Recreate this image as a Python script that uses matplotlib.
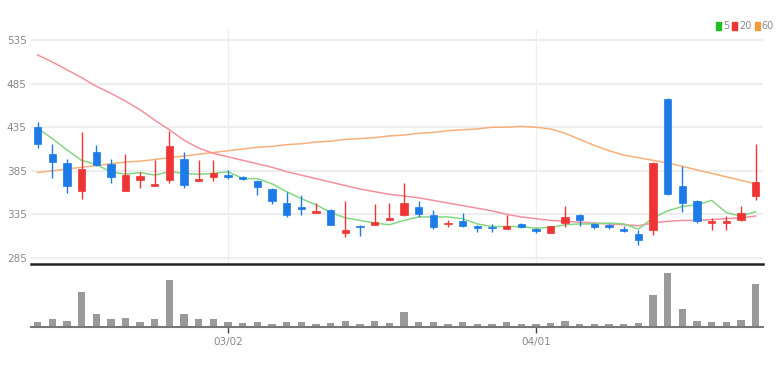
import matplotlib
matplotlib.use("Agg")
import matplotlib.pyplot as plt
import numpy as np

# Daily candles (price), index 0..49
opens = [435, 404, 394, 362, 406, 393, 362, 374, 368, 374,
         399, 373, 378, 380, 378, 373, 364, 348, 343, 337,
         340, 313, 322, 323, 328, 334, 343, 334, 324, 327,
         322, 321, 318, 324, 318, 314, 325, 334, 324, 323,
         318, 312, 317, 467, 367, 350, 325, 325, 329, 356]
highs = [441, 416, 399, 429, 415, 398, 404, 384, 397, 431,
         407, 397, 397, 386, 379, 374, 365, 361, 357, 348,
         341, 350, 323, 347, 348, 371, 350, 340, 329, 336,
         323, 324, 334, 325, 319, 322, 344, 335, 325, 324,
         322, 317, 395, 469, 390, 351, 331, 333, 344, 416]
lows = [411, 377, 360, 353, 391, 371, 362, 365, 368, 371,
        365, 373, 373, 375, 374, 357, 347, 332, 334, 337,
        323, 309, 310, 323, 328, 333, 332, 318, 321, 320,
        315, 315, 318, 319, 314, 314, 321, 322, 318, 318,
        315, 300, 311, 357, 338, 325, 317, 317, 327, 352]
closes = [416, 395, 367, 387, 392, 378, 380, 379, 370, 413,
          369, 376, 383, 378, 375, 366, 350, 334, 341, 339,
          323, 317, 320, 326, 331, 348, 335, 320, 325, 322,
          319, 319, 322, 321, 316, 322, 332, 329, 321, 320,
          316, 305, 394, 358, 348, 327, 327, 327, 336, 372]

# Moving averages as drawn
ma5 = [434, 422, 409, 397, 392, 384, 381, 383, 380, 384,
       382, 381, 382, 384, 376, 376, 370, 361, 353, 346,
       337, 331, 328, 325, 323, 328, 332, 332, 332, 330,
       324, 321, 321, 321, 319, 320, 323, 324, 324, 325,
       324, 318, 331, 339, 344, 346, 351, 337, 333, 338]
ma20 = [518, 510, 501, 492, 482, 474, 465, 455, 443, 432,
        420, 411, 405, 401, 397, 393, 389, 384, 380, 376,
        372, 368, 364, 361, 358, 356, 354, 351, 348, 345,
        342, 339, 335, 332, 330, 328, 327, 326, 325, 324,
        323, 322, 325, 327, 328, 328, 329, 330, 331, 333]
ma60 = [383, 385, 387, 389, 391, 393, 395, 396, 398, 400,
        402, 404, 406, 408, 410, 412, 413, 415, 416, 418,
        419, 421, 422, 423, 425, 426, 428, 429, 431, 432,
        433, 435, 435, 436, 435, 433, 428, 421, 414, 408,
        403, 400, 397, 394, 390, 386, 382, 378, 374, 370]

volumes = [5000, 8000, 6400, 35000, 12700, 7700, 9400, 4700, 7700, 46700,
           12700, 7700, 7700, 4700, 3600, 4700, 3000, 5000, 5000, 3000,
           3600, 6400, 3000, 6000, 3600, 14700, 5000, 5000, 3000, 5000,
           3000, 3000, 5000, 2600, 3000, 3600, 6400, 3000, 3000, 2600,
           2600, 3600, 31700, 54300, 18300, 6400, 4700, 4700, 7300, 43300]

date_ticks = [13, 34]
date_labels = ["03/02", "04/01"]
price_ticks = [285, 335, 385, 435, 485, 535]

UP = "#ee3434"
DOWN = "#1c7be6"
GRID = "#eeeeee"
TXT = "#8a8a8a"

plt.rcParams["font.family"] = ["Liberation Sans Narrow", "DejaVu Sans"]

fig = plt.figure(figsize=(7.8, 3.67), dpi=100)
ax = fig.add_axes([0.0397, 0.2807, 0.9385, 0.6373])
axv = fig.add_axes([0.0397, 0.109, 0.9385, 0.1635])

x = np.arange(len(closes))
W = 0.5

for i in x:
    o, h, l, c = opens[i], highs[i], lows[i], closes[i]
    col = UP if c >= o else DOWN
    ax.vlines(i, l, h, color=col, linewidth=1.0, zorder=3)
    lo, hi = min(o, c), max(o, c)
    ax.bar(i, max(hi - lo, 1.2), width=W, bottom=lo, color=col,
           edgecolor=col, linewidth=0.5, zorder=4)

ax.plot(x, ma60, color="#f7b07a", linewidth=1.1, zorder=2)
ax.plot(x, ma20, color="#f4919c", linewidth=1.1, zorder=2)
ax.plot(x, ma5, color="#84d884", linewidth=1.1, zorder=2)

ax.set_xlim(-0.45, 49.5)
ax.set_ylim(278, 546.5)
ax.set_yticks(price_ticks)
ax.set_yticklabels([str(p) for p in price_ticks])
ax.grid(axis="y", color=GRID, linewidth=1.6, zorder=0)
for d in date_ticks:
    ax.axvline(d, color=GRID, linewidth=0.9, zorder=0)
ax.set_xticks([])
ax.tick_params(axis="y", length=0, labelsize=7.5, labelcolor=TXT, pad=3)
for s in ["top", "right", "left"]:
    ax.spines[s].set_visible(False)
ax.spines["bottom"].set_color("#222222")
ax.spines["bottom"].set_linewidth(1.8)

# legend in the top-right corner
legend_items = [("5", "#1fbf1f"), ("20", "#ee3434"), ("60", "#f39a3c")]
lx = 0.918
for lab, col in legend_items:
    fig.patches.append(plt.Rectangle((lx, 0.918), 0.0065, 0.022,
                                     transform=fig.transFigure, color=col))
    fig.text(lx + 0.009, 0.929, lab, color=TXT, fontsize=7, va="center")
    lx += 0.0095 + 0.0075 * len(lab) + 0.004

# volume panel
axv.bar(x, volumes, width=W, color="#9a9a9a", zorder=2)
axv.set_xlim(-0.45, 49.5)
axv.set_ylim(0, 60000)
axv.set_yticks([])
axv.set_xticks(date_ticks)
axv.set_xticklabels(date_labels)
axv.tick_params(axis="x", length=4, width=1, color="#444444",
                labelsize=7.5, labelcolor=TXT, pad=3)
for s in ["top", "right", "left"]:
    axv.spines[s].set_visible(False)
axv.spines["bottom"].set_color("#777777")
axv.spines["bottom"].set_linewidth(1.5)

fig.savefig("out.png", dpi=100)
